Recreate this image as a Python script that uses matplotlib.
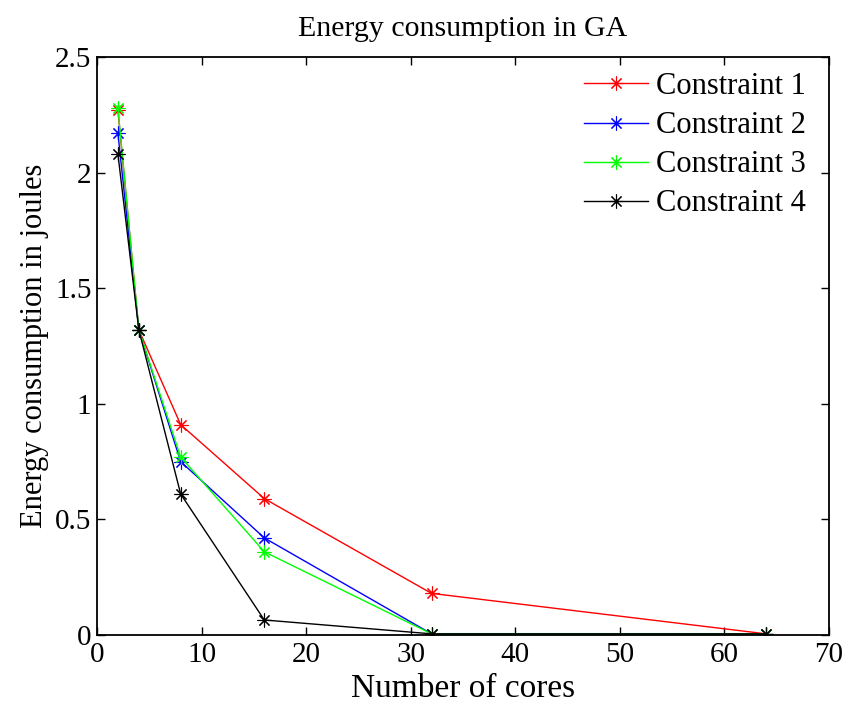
import matplotlib
matplotlib.use("Agg")
import matplotlib.pyplot as plt

cores = [2, 4, 8, 16, 32, 64]
c1 = [2.27, 1.32, 0.91, 0.59, 0.18, 0.005]
c2 = [2.17, 1.32, 0.75, 0.42, 0.005, 0.005]
c3 = [2.28, 1.32, 0.77, 0.36, 0.005, 0.005]
c4 = [2.08, 1.32, 0.61, 0.065, 0.005, 0.005]
labels = ["Constraint 1", "Constraint 2", "Constraint 3", "Constraint 4"]
colors = ["#ff0000", "#0000ff", "#00ff00", "#000000"]

plt.rcParams['font.family'] = ['Liberation Serif', 'DejaVu Serif']

fig = plt.figure(figsize=(8.51, 7.04), dpi=100)
ax = fig.add_axes([0.114, 0.098, 0.860, 0.821])
for s, lab, col in zip([c1, c2, c3, c4], labels, colors):
    ax.plot(cores, s, color=col, marker=(8, 2, 0), markersize=10, linewidth=1.0,
            markeredgewidth=0.8, label=lab)

ax.set_xlim(0, 70)
ax.set_ylim(0, 2.5)
ax.set_xticks(range(0, 71, 10))
ax.set_yticks([0, 0.5, 1, 1.5, 2, 2.5])
ax.set_yticklabels(["0", "0.5", "1", "1.5", "2", "2.5"])
ax.tick_params(direction='in', top=True, right=True, labelsize=21, length=6, width=1.0)
ax.tick_params(axis='x', pad=5)
ax.tick_params(axis='y', pad=4)
ax.set_xlabel("Number of cores", fontsize=24, labelpad=4)
ax.set_ylabel("Energy consumption in joules", fontsize=22, labelpad=4)
ax.set_title("Energy consumption in GA", fontsize=21.5, pad=15)
for sp in ax.spines.values():
    sp.set_linewidth(1.3)
ax.legend(loc='upper right', bbox_to_anchor=(0.985, 0.995), frameon=False, fontsize=22,
          handlelength=2.1, borderaxespad=0.0, labelspacing=0.33, handletextpad=0.25)
fig.savefig("out.png", dpi=100)
